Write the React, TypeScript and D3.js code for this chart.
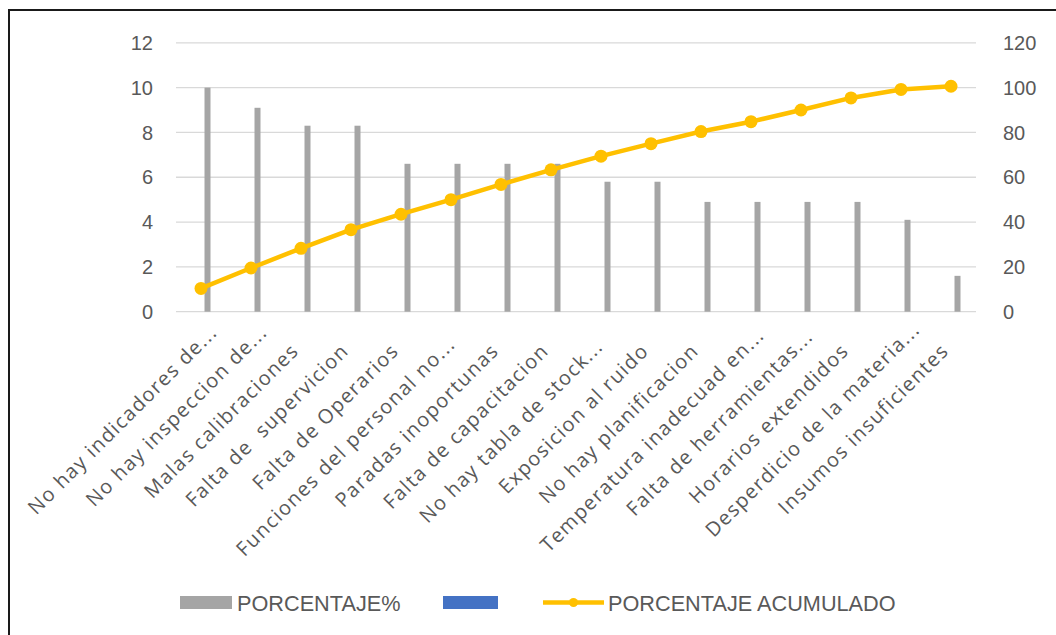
import React from "react";
import * as d3 from "d3";

const categories = [
  "No hay indicadores de...",
  "No hay inspeccion de...",
  "Malas calibraciones",
  "Falta de  supervicion",
  "Falta de Operarios",
  "Funciones del personal no...",
  "Paradas inoportunas",
  "Falta de capacitacion",
  "No hay tabla de stock...",
  "Exposicion al ruido",
  "No hay planificacion",
  "Temperatura inadecuad en...",
  "Falta de herramientas...",
  "Horarios extendidos",
  "Desperdicio de la materia...",
  "Insumos insuficientes",
];
const porcentaje = [10, 9.1, 8.3, 8.3, 6.6, 6.6, 6.6, 6.6, 5.8, 5.8, 4.9, 4.9, 4.9, 4.9, 4.1, 1.6];
const acumulado = [10.4, 19.5, 28.3, 36.6, 43.5, 50, 56.8, 63.3, 69.4, 75, 80.4, 84.8, 90, 95.4, 99.2, 100.6];
const leftTicks = [0, 2, 4, 6, 8, 10, 12];
const rightTicks = [0, 20, 40, 60, 80, 100, 120];
const legendLabels = ["PORCENTAJE%", "", "PORCENTAJE ACUMULADO"];

// layout-only nudges for Excel's wrapped/truncated label placement (px along baseline)
const labelShift: Record<number, number> = { 0: 26, 1: 26, 5: 9, 8: 6, 11: 22, 12: 20, 14: 30 };

const GREY = "#a5a5a5";
const GOLD = "#ffc000";
const BLUE = "#4472c4";
const TEXT = "#595959";
const GRID = "#d9d9d9";

export default function App() {
  const W = 1056, H = 635;
  const x0 = 176, x1 = 976;
  const y0 = 311.7, y1 = 42.8;

  const x = d3.scaleBand<string>().domain(categories).range([x0, x1]).paddingInner(0).paddingOuter(0);
  const yL = d3.scaleLinear().domain([0, 12]).range([y0, y1]);
  const yR = d3.scaleLinear().domain([0, 120]).range([y0, y1]);
  const cx = (c: string) => (x(c) as number) + x.bandwidth() / 2;

  const line = d3
    .line<number>()
    .x((_, i) => cx(categories[i]))
    .y((d) => yR(d));

  const tickFont = "'Liberation Sans', Arial, sans-serif";
  const labelFont = "'Open Sans', 'Noto Sans', sans-serif";

  return (
    <svg width={W} height={H} style={{ position: "absolute", left: 0, top: 0, background: "#fff" }}>
      <rect x={0} y={0} width={W} height={H} fill="#fff" />
      {/* outer border (right/bottom lie outside the picture) */}
      <rect x={9} y={10} width={1060} height={700} fill="none" stroke="#1a1a1a" strokeWidth={2} />

      {/* gridlines */}
      {leftTicks.map((t) => (
        <line key={"g" + t} x1={x0} x2={x1} y1={yL(t)} y2={yL(t)} stroke={GRID} strokeWidth={1.3} />
      ))}

      {/* left axis labels */}
      {leftTicks.map((t) => (
        <text key={"l" + t} x={153} y={yL(t)} dy="0.36em" textAnchor="end" fontFamily={tickFont} fontSize={20} fill={TEXT}>
          {t}
        </text>
      ))}
      {/* right axis labels */}
      {rightTicks.map((t) => (
        <text key={"r" + t} x={1003} y={yR(t)} dy="0.36em" textAnchor="start" fontFamily={tickFont} fontSize={20} fill={TEXT}>
          {t}
        </text>
      ))}

      {/* bars */}
      {porcentaje.map((v, i) => (
        <rect key={"b" + i} x={cx(categories[i]) + 3.5} y={yL(v)} width={6} height={yL(0) - yL(v)} fill={GREY} />
      ))}

      {/* cumulative line */}
      <path d={line(acumulado) || ""} fill="none" stroke={GOLD} strokeWidth={4.5} strokeLinejoin="round" />
      {acumulado.map((v, i) => (
        <circle key={"m" + i} cx={cx(categories[i])} cy={yR(v)} r={6.5} fill={GOLD} />
      ))}

      {/* category labels */}
      {categories.map((c, i) => (
        <text
          key={"c" + i}
          transform={`translate(${cx(c) - 1},352) rotate(-45)`}
          x={labelShift[i] || 0}
          textAnchor="end"
          fontFamily={labelFont}
          fontSize={20}
          letterSpacing={1.4}
          fill={TEXT}
          style={{ whiteSpace: "pre" }}
        >
          {c}
        </text>
      ))}

      {/* legend */}
      <rect x={180} y={596} width={52} height={13} fill={GREY} />
      <text x={237} y={603} dy="0.36em" fontFamily={tickFont} fontSize={21.7} fill={TEXT}>
        {legendLabels[0]}
      </text>
      <rect x={443} y={596} width={55} height={13} fill={BLUE} />
      <line x1={543} x2={604} y1={602.5} y2={602.5} stroke={GOLD} strokeWidth={4.5} />
      <circle cx={573.5} cy={602.5} r={4.5} fill={GOLD} />
      <text x={608} y={603} dy="0.36em" fontFamily={tickFont} fontSize={21.7} fill={TEXT}>
        {legendLabels[2]}
      </text>
    </svg>
  );
}
